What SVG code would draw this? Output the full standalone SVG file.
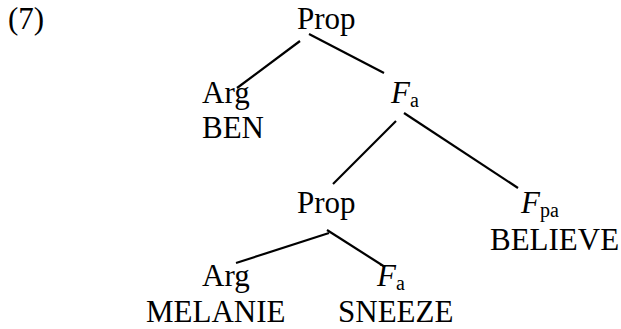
<svg xmlns="http://www.w3.org/2000/svg" width="621" height="329" viewBox="0 0 621 329">
<style>
text{font-family:"Liberation Serif","Times New Roman",serif;font-size:31px;fill:#000}
.i{font-style:italic}
.s{font-size:20px}
.c line{stroke:#000;stroke-width:2.2;stroke-linecap:butt}
</style>
<rect width="621" height="329" fill="#fff"/>
<text x="8" y="29">(7)</text>
<g class="c" id="connectors">
<line x1="300" y1="41" x2="237" y2="88"/>
<line x1="309" y1="34" x2="384" y2="73"/>
<line x1="396" y1="121" x2="333" y2="184"/>
<line x1="404" y1="113" x2="518" y2="188"/>
<line x1="329" y1="233" x2="236" y2="263"/>
<line x1="327" y1="230" x2="385" y2="267"/>
</g>
<g id="prop1"><text x="297" y="29">Prop</text></g>
<g id="arg1"><text x="202" y="103">Arg</text><text x="202" y="138">BEN</text></g>
<g id="fa1"><text class="i" x="391" y="103">F</text><text class="s" x="410" y="107">a</text></g>
<g id="prop2"><text x="297" y="213">Prop</text></g>
<g id="fpa"><text class="i" x="521" y="213">F</text><text class="s" x="540" y="217">pa</text><text x="490" y="250">BELIEVE</text></g>
<g id="arg2"><text x="202" y="286">Arg</text><text x="146" y="322">MELANIE</text></g>
<g id="fa2"><text class="i" x="377" y="286">F</text><text class="s" x="396" y="290">a</text><text x="338" y="322">SNEEZE</text></g>
</svg>
